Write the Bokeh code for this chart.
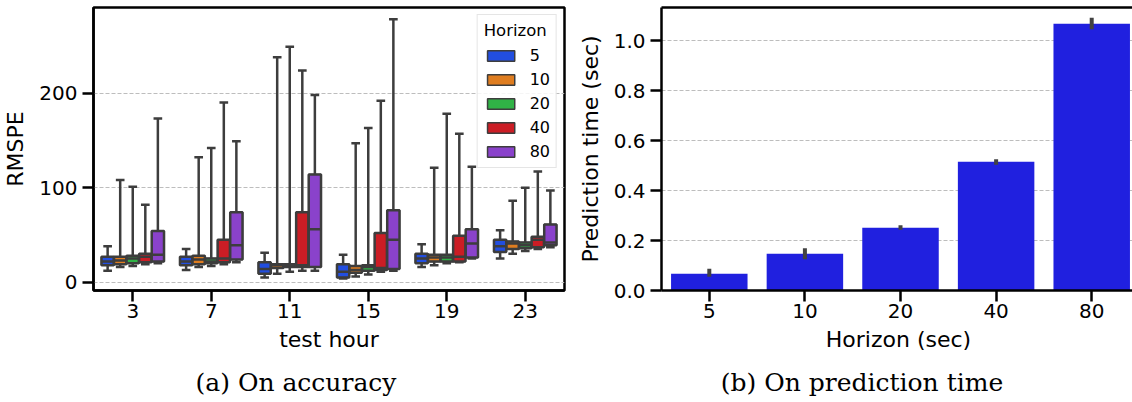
from bokeh.plotting import figure
from bokeh.models import (Range1d, FactorRange, FixedTicker, Legend, LegendItem,
                          LinearAxis, Div, ColumnDataSource, PrintfTickFormatter)
from bokeh.transform import dodge
from bokeh.layouts import row, column
from bokeh.embed import file_html
from bokeh.resources import INLINE

# ---------------- data ----------------
hours = ["3", "7", "11", "15", "19", "23"]
horizons = ["5", "10", "20", "40", "80"]
horizon_colors = ["#224ee0", "#df7d20", "#30b346", "#cb1d25", "#8a42cb"]

# RMSPE box statistics, one value per test hour
whisker_low = {
    "5":  [12, 13, 5, 4, 16, 25],
    "10": [16, 16, 9, 6, 18, 30],
    "20": [17, 17, 11, 8, 20, 33],
    "40": [19, 19, 12, 11, 21, 35],
    "80": [20, 21, 12, 12, 25, 37],
}
quartile_1 = {
    "5":  [18, 18, 9, 5, 20, 32],
    "10": [19, 19, 15, 10, 22, 35],
    "20": [20, 20, 16, 12, 22, 36],
    "40": [21, 21, 16, 13, 22, 37],
    "80": [22, 24, 16, 14, 26, 39],
}
median = {
    "5":  [22, 22, 14, 11, 25, 38],
    "10": [23, 24, 18, 13, 26, 41],
    "20": [25, 22, 18, 16, 26, 39],
    "40": [27, 25, 18, 15, 27, 45],
    "80": [29, 39, 56, 45, 41, 42],
}
quartile_3 = {
    "5":  [27, 27, 21, 19, 30, 45],
    "10": [27, 28, 19, 17, 29, 43],
    "20": [28, 25, 19, 18, 29, 42],
    "40": [30, 45, 74, 52, 49, 48],
    "80": [54, 74, 114, 76, 56, 61],
}
whisker_high = {
    "5":  [38, 35, 31, 29, 40, 55],
    "10": [108, 132, 238, 147, 121, 86],
    "20": [101, 142, 249, 163, 178, 100],
    "40": [82, 190, 224, 192, 157, 117],
    "80": [173, 149, 198, 278, 122, 97],
}

# prediction time (sec) per horizon, with confidence interval
pred_time = [0.067, 0.147, 0.251, 0.515, 1.067]
pred_time_low = [0.055, 0.125, 0.243, 0.503, 1.045]
pred_time_high = [0.087, 0.169, 0.261, 0.525, 1.091]

# ---------------- style ----------------
FONT = "DejaVu Sans"
EDGE = "#3d3d3d"
GRID = "#bdbdbd"
BAR = "#2020df"
TICK_PX = "20px"
LABEL_PX = "22px"


def style_axes(p):
    for ax in p.xaxis + p.yaxis:
        ax.axis_line_color = "black"
        ax.axis_line_width = 2.5
        ax.major_tick_line_color = "black"
        ax.major_tick_line_width = 2.5
        ax.major_tick_out = 11
        ax.major_tick_in = 0
        ax.minor_tick_out = 0
        ax.minor_tick_in = 0
        ax.major_label_text_font = FONT
        ax.major_label_text_font_size = TICK_PX
        ax.major_label_text_color = "black"
        ax.axis_label_text_font = FONT
        ax.axis_label_text_font_size = LABEL_PX
        ax.axis_label_text_font_style = "normal"
        ax.axis_label_text_color = "black"
    for ax in p.xaxis:
        ax.major_label_standoff = 2
        ax.axis_label_standoff = 6
    for ax in p.yaxis:
        ax.major_label_standoff = 5
        ax.axis_label_standoff = 8
    p.xgrid.grid_line_color = None
    p.ygrid.grid_line_color = GRID
    p.ygrid.grid_line_dash = "4 2"
    p.ygrid.grid_line_width = 1


# ---------------- (a) accuracy box plot ----------------
left = figure(x_range=FactorRange(*hours), y_range=Range1d(-8.8, 290.5),
              frame_width=471, frame_height=283,
              min_border_left=90, min_border_right=9,
              min_border_top=7, min_border_bottom=70,
              output_backend="svg", toolbar_location=None)
left.outline_line_color = "black"
left.outline_line_width = 2.5
left.xaxis.axis_label = "test hour"
left.yaxis.axis_label = "RMSPE"
left.yaxis.ticker = FixedTicker(ticks=[0, 100, 200])
style_axes(left)

n = len(horizons)
group_width = 0.8
box_w = group_width / n * 0.98
cap_half = box_w * 0.25

legend_items = []
for i, (h, c) in enumerate(zip(horizons, horizon_colors)):
    off = (i - (n - 1) / 2) * group_width / n
    src = ColumnDataSource(dict(hour=hours, lo=whisker_low[h], q1=quartile_1[h],
                                med=median[h], q3=quartile_3[h], hi=whisker_high[h]))
    xc = dodge("hour", off, range=left.x_range)
    xl = dodge("hour", off - box_w / 2, range=left.x_range)
    xr = dodge("hour", off + box_w / 2, range=left.x_range)
    cl = dodge("hour", off - cap_half, range=left.x_range)
    cr = dodge("hour", off + cap_half, range=left.x_range)

    # thin-edged copy of the boxes, hidden under the real ones; used as legend swatch
    swatch = left.vbar(x=xc, width=box_w, bottom="q1", top="q3", source=src,
                       fill_color=c, line_color=EDGE, line_width=1.5)
    legend_items.append(LegendItem(label=h, renderers=[swatch]))

    left.vbar(x=xc, width=box_w, bottom="q1", top="q3", source=src,
              fill_color=c, line_color=EDGE, line_width=2.5)
    left.segment(x0=xc, y0="q3", x1=xc, y1="hi", source=src,
                 line_color=EDGE, line_width=2.5)
    left.segment(x0=xc, y0="q1", x1=xc, y1="lo", source=src,
                 line_color=EDGE, line_width=2.5)
    left.segment(x0=cl, y0="hi", x1=cr, y1="hi", source=src,
                 line_color=EDGE, line_width=2.5, line_cap="square")
    left.segment(x0=cl, y0="lo", x1=cr, y1="lo", source=src,
                 line_color=EDGE, line_width=2.5, line_cap="square")
    left.segment(x0=xl, y0="med", x1=xr, y1="med", source=src,
                 line_color=EDGE, line_width=2.5)

legend = Legend(items=legend_items, title="Horizon", location="top_right",
                title_text_font=FONT, title_text_font_size="16.5px",
                title_text_font_style="normal", title_text_color="black",
                title_standoff=5,
                label_text_font=FONT, label_text_font_size="16px",
                label_text_color="black",
                glyph_width=34, glyph_height=13, label_height=20,
                label_standoff=12, spacing=4, padding=6, margin=7,
                border_line_color="#cccccc", border_line_width=1,
                background_fill_color="white", background_fill_alpha=0.85)
left.add_layout(legend)

# ---------------- (b) prediction time bar chart ----------------
xs = list(range(len(horizons)))
right = figure(x_range=Range1d(-0.5, 4.458), y_range=Range1d(0, 1.132),
               frame_width=474, frame_height=283,
               min_border_left=88, min_border_right=0,
               min_border_top=7, min_border_bottom=70,
               output_backend="svg", toolbar_location=None)
right.outline_line_color = None
right.xaxis.axis_label = "Horizon (sec)"
right.yaxis.axis_label = "Prediction time (sec)"
right.xaxis.ticker = FixedTicker(ticks=xs)
right.xaxis.major_label_overrides = {i: h for i, h in enumerate(horizons)}
right.yaxis.ticker = FixedTicker(ticks=[0.0, 0.2, 0.4, 0.6, 0.8, 1.0])
right.yaxis.formatter = PrintfTickFormatter(format="%.1f")
right.ygrid.ticker = FixedTicker(ticks=[0.2, 0.4, 0.6, 0.8, 1.0])
style_axes(right)

top_spine = LinearAxis(ticker=FixedTicker(ticks=[]), axis_line_width=2.5,
                       axis_line_color="black", major_tick_out=0, major_tick_in=0,
                       minor_tick_out=0, minor_tick_in=0, major_label_standoff=0,
                       major_label_text_font_size="0px")
right.add_layout(top_spine, "above")

right.vbar(x=xs, top=pred_time, width=0.8, fill_color=BAR, line_color=None)
right.segment(x0=xs, y0=pred_time_low, x1=xs, y1=pred_time_high,
              line_color="#424242", line_width=4)

# ---------------- captions ----------------
CAP_STYLE = ("font-family:'DejaVu Serif';font-size:25px;color:black;"
             "text-align:center;line-height:42px;padding-top:2px;white-space:nowrap;")
cap_a = Div(text=f'<div style="{CAP_STYLE}width:592px;">(a) On accuracy</div>',
            width=592, height=42, margin=(0, 0, 0, 0))
cap_b = Div(text=f'<div style="{CAP_STYLE}width:540px;">(b) On prediction time</div>',
            width=540, height=42, margin=(0, 0, 0, 0))

layout = column(row(left, right, spacing=0), row(cap_a, cap_b, spacing=0), spacing=0)

open("out.html", "w").write(file_html(layout, INLINE))
